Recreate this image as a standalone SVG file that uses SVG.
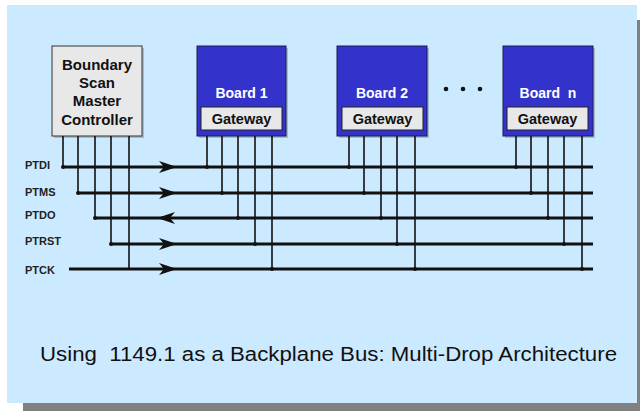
<svg xmlns="http://www.w3.org/2000/svg" width="640" height="411" viewBox="0 0 640 411">
  <style>
    .panel { fill: #cceaff; }
    .drop-shadow { fill: #808080; }
    .box-shadow { fill: #8c9cab; opacity: 0.6; }
    .ctrl { fill: #e8e8e8; stroke: #333333; stroke-width: 1; }
    .board { fill: #3333cc; stroke: #1a1a55; stroke-width: 1; }
    .gw { fill: #e8e8e8; stroke: #222222; stroke-width: 1; }
    .t { font-family: "Liberation Sans", Arial, sans-serif; font-weight: bold; text-anchor: middle; }
    .ctrl-t { font-size: 15px; fill: #111111; }
    .board-t { font-size: 14px; fill: #ffffff; }
    .gw-t { font-size: 14.5px; fill: #111111; }
    .sig { font-family: "Liberation Sans", Arial, sans-serif; font-weight: bold; font-size: 11px; fill: #222222; }
    .title { font-family: "Liberation Sans", Arial, sans-serif; font-size: 20px; fill: #111111; }
    .bus { stroke: #111111; stroke-width: 3; fill: none; }
    .drop { stroke: #111111; stroke-width: 1.6; fill: none; }
    .dot { fill: #111111; }
    .arrow { fill: #111111; }
  </style>
  <defs>
    <path id="arrowhead" d="M0,0 L-18,-6 L-13,0 L-18,6 Z"/>
  </defs>

  <!-- background panel with drop shadow -->
  <rect class="drop-shadow" x="23" y="20" width="617" height="391"/>
  <rect class="panel" x="7" y="5" width="630" height="398"/>

  <!-- controller -->
  <g id="controller">
    <rect class="box-shadow" x="54" y="48" width="90" height="90"/>
    <rect class="ctrl" x="52" y="46" width="90" height="90"/>
    <text class="t ctrl-t" x="97" y="69.5">Boundary</text>
    <text class="t ctrl-t" x="97" y="88">Scan</text>
    <text class="t ctrl-t" x="97" y="106">Master</text>
    <text class="t ctrl-t" x="97" y="124.5">Controller</text>
  </g>

  <!-- board 1 -->
  <g id="board1">
    <rect class="box-shadow" x="199" y="48" width="89" height="90"/>
    <rect class="board" x="197" y="46" width="89" height="90"/>
    <text class="t board-t" x="241.5" y="98">Board 1</text>
    <rect class="gw" x="201" y="107" width="81" height="23"/>
    <text class="t gw-t" x="241.5" y="124">Gateway</text>
  </g>

  <!-- board 2 -->
  <g id="board2">
    <rect class="box-shadow" x="339" y="48" width="90" height="90"/>
    <rect class="board" x="337" y="46" width="90" height="90"/>
    <text class="t board-t" x="382" y="98">Board 2</text>
    <rect class="gw" x="342" y="107" width="81" height="23"/>
    <text class="t gw-t" x="382.5" y="124">Gateway</text>
  </g>

  <!-- ellipsis between boards -->
  <g id="ellipsis">
    <circle class="dot" cx="446" cy="89" r="2.3"/>
    <circle class="dot" cx="463" cy="89" r="2.3"/>
    <circle class="dot" cx="480" cy="89" r="2.3"/>
  </g>

  <!-- board n -->
  <g id="boardn">
    <rect class="box-shadow" x="505" y="48" width="90" height="90"/>
    <rect class="board" x="503" y="46" width="90" height="90"/>
    <text class="t board-t" x="548" y="98" xml:space="preserve">Board  n</text>
    <rect class="gw" x="507" y="107" width="81" height="23"/>
    <text class="t gw-t" x="547.5" y="124">Gateway</text>
  </g>

  <!-- signal labels -->
  <g id="labels">
    <text class="sig" x="25" y="169">PTDI</text>
    <text class="sig" x="25" y="196">PTMS</text>
    <text class="sig" x="25" y="219">PTDO</text>
    <text class="sig" x="25" y="245">PTRST</text>
    <text class="sig" x="25" y="274">PTCK</text>
  </g>

  <!-- bus lines, drops and taps -->
  <g id="connectors">
    <line class="bus" x1="63" y1="167" x2="593" y2="167"/>
    <line class="bus" x1="78" y1="193" x2="593" y2="193"/>
    <line class="bus" x1="95" y1="218" x2="593" y2="218"/>
    <line class="bus" x1="111" y1="244" x2="593" y2="244"/>
    <line class="bus" x1="69" y1="269" x2="593" y2="269"/>

    <!-- controller drops -->
    <line class="drop" x1="63" y1="136" x2="63" y2="167"/>
    <line class="drop" x1="78" y1="136" x2="78" y2="193"/>
    <line class="drop" x1="95" y1="136" x2="95" y2="218"/>
    <line class="drop" x1="111" y1="136" x2="111" y2="244"/>
    <line class="drop" x1="129" y1="136" x2="129" y2="269"/>
    <circle class="dot" cx="63" cy="167" r="2"/>
    <circle class="dot" cx="78" cy="193" r="2"/>
    <circle class="dot" cx="95" cy="218" r="2"/>
    <circle class="dot" cx="111" cy="244" r="2"/>

    <!-- board 1 drops -->
    <line class="drop" x1="207" y1="136" x2="207" y2="167"/>
    <line class="drop" x1="222" y1="136" x2="222" y2="193"/>
    <line class="drop" x1="238" y1="136" x2="238" y2="218"/>
    <line class="drop" x1="255" y1="136" x2="255" y2="244"/>
    <line class="drop" x1="272" y1="136" x2="272" y2="269"/>
    <circle class="dot" cx="207" cy="167" r="2"/>
    <circle class="dot" cx="222" cy="193" r="2"/>
    <circle class="dot" cx="238" cy="218" r="2"/>
    <circle class="dot" cx="255" cy="244" r="2"/>
    <circle class="dot" cx="272" cy="269" r="2"/>

    <!-- board 2 drops -->
    <line class="drop" x1="349" y1="136" x2="349" y2="167"/>
    <line class="drop" x1="364" y1="136" x2="364" y2="193"/>
    <line class="drop" x1="381" y1="136" x2="381" y2="218"/>
    <line class="drop" x1="397" y1="136" x2="397" y2="244"/>
    <line class="drop" x1="415" y1="136" x2="415" y2="269"/>
    <circle class="dot" cx="349" cy="167" r="2"/>
    <circle class="dot" cx="364" cy="193" r="2"/>
    <circle class="dot" cx="381" cy="218" r="2"/>
    <circle class="dot" cx="397" cy="244" r="2"/>
    <circle class="dot" cx="415" cy="269" r="2"/>

    <!-- board n drops -->
    <line class="drop" x1="516" y1="136" x2="516" y2="167"/>
    <line class="drop" x1="531" y1="136" x2="531" y2="193"/>
    <line class="drop" x1="548" y1="136" x2="548" y2="218"/>
    <line class="drop" x1="564" y1="136" x2="564" y2="244"/>
    <line class="drop" x1="582" y1="136" x2="582" y2="269"/>
    <circle class="dot" cx="516" cy="167" r="2"/>
    <circle class="dot" cx="531" cy="193" r="2"/>
    <circle class="dot" cx="548" cy="218" r="2"/>
    <circle class="dot" cx="564" cy="244" r="2"/>
    <circle class="dot" cx="582" cy="269" r="2"/>

    <!-- direction arrows -->
    <use href="#arrowhead" class="arrow" transform="translate(177,167)"/>
    <use href="#arrowhead" class="arrow" transform="translate(177,193)"/>
    <use href="#arrowhead" class="arrow" transform="translate(157,218) scale(-1,1)"/>
    <use href="#arrowhead" class="arrow" transform="translate(177,244)"/>
    <use href="#arrowhead" class="arrow" transform="translate(177,269)"/>
  </g>

  <!-- caption -->
  <text class="title" x="40" y="361" textLength="577" lengthAdjust="spacingAndGlyphs" xml:space="preserve">Using  1149.1 as a Backplane Bus: Multi-Drop Architecture</text>
</svg>
